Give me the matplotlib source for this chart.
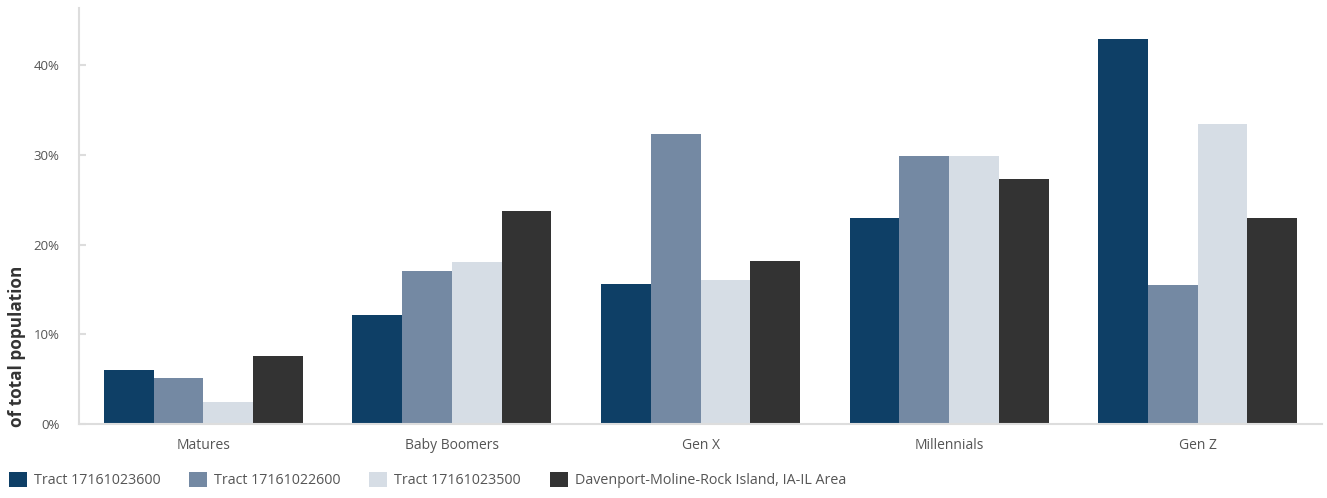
import matplotlib
matplotlib.use("Agg")
import matplotlib.pyplot as plt
import numpy as np
from matplotlib.patches import Patch

categories = ["Matures", "Baby Boomers", "Gen X", "Millennials", "Gen Z"]
series_names = ["Tract 17161023600", "Tract 17161022600", "Tract 17161023500",
                "Davenport-Moline-Rock Island, IA-IL Area"]
tract_23600 = [6.0, 12.1, 15.6, 22.95, 42.9]
tract_22600 = [5.1, 17.0, 32.3, 29.9, 15.5]
tract_23500 = [2.45, 18.05, 16.0, 29.9, 33.4]
metro_area = [7.6, 23.7, 18.2, 27.3, 22.95]
y_ticks = [0, 10, 20, 30, 40]
y_tick_labels = ["0%", "10%", "20%", "30%", "40%"]

colors = ["#0e3f66", "#7489a3", "#d6dde5", "#333333"]
values = [tract_23600, tract_22600, tract_23500, metro_area]

plt.rcParams['font.family'] = ['Open Sans', 'DejaVu Sans']

fig = plt.figure(figsize=(13.27, 4.98), dpi=100)
W, H = 1327, 498
ax = fig.add_axes([79 / W, (498 - 424) / H, (1322 - 79) / W, (424 - 8) / H])

x = np.arange(len(categories))
band = 0.8
bw = band / len(values)
for i, (vals, c) in enumerate(zip(values, colors)):
    ax.bar(x - band / 2 + bw * (i + 0.5), vals, width=bw, color=c, linewidth=0)

ax.set_xlim(-0.5, len(categories) - 0.5)
ax.set_ylim(0, 416 / 8.975)
ax.set_yticks(y_ticks)
ax.set_yticklabels(y_tick_labels)
ax.set_xticks(x)
ax.set_xticklabels(categories)

for s in ["top", "right"]:
    ax.spines[s].set_visible(False)
for s in ["left", "bottom"]:
    ax.spines[s].set_color("#dddddd")
    ax.spines[s].set_linewidth(1.5)

ax.tick_params(axis="y", direction="in", length=5, width=1.5, color="#dddddd",
               labelsize=9.5, labelcolor="#555555", pad=14)
ax.tick_params(axis="x", length=0, labelsize=10, labelcolor="#555555", pad=10)

fig.text(17 / W, 1 - 346 / H, "of total population", rotation=90, ha="center",
         va="center", fontsize=12.3, fontweight="bold", color="#333333")

handles = [Patch(facecolor=c, edgecolor="none") for c in colors]
leg = fig.legend(handles, series_names, loc="lower left",
                 bbox_to_anchor=(-1 / W, 0.0), ncol=4, frameon=False,
                 fontsize=10.3, handlelength=1.25, handleheight=1.25,
                 handletextpad=0.5, columnspacing=2.0, borderaxespad=0.3)
for t in leg.get_texts():
    t.set_color("#555555")

fig.savefig("out.png", dpi=100)
